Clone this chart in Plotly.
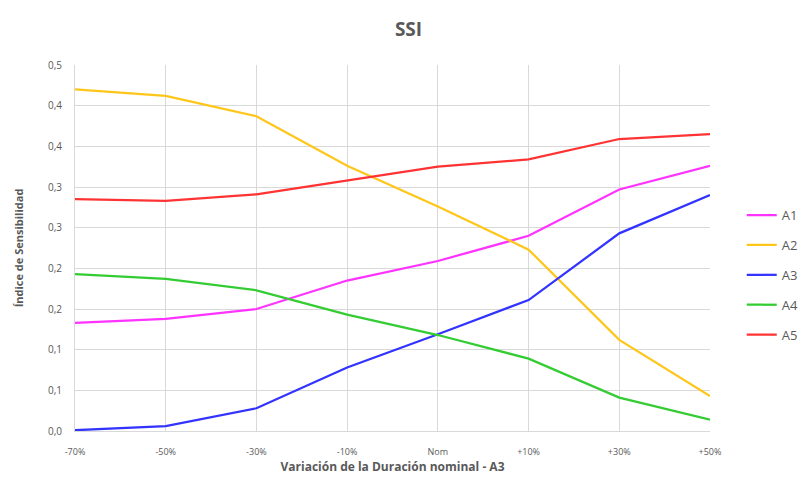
import plotly.graph_objects as go

# Sensitivity index (SSI) for each activity as the nominal duration of A3 varies
categories = ["-70%", "-50%", "-30%", "-10%", "Nom", "+10%", "+30%", "+50%"]

a1 = [0.133, 0.138, 0.150, 0.185, 0.209, 0.240, 0.297, 0.326]
a2 = [0.420, 0.412, 0.387, 0.326, 0.276, 0.223, 0.112, 0.043]
a3 = [0.001, 0.006, 0.028, 0.078, 0.119, 0.161, 0.243, 0.290]
a4 = [0.193, 0.187, 0.173, 0.143, 0.118, 0.089, 0.041, 0.014]
a5 = [0.285, 0.283, 0.291, 0.308, 0.325, 0.334, 0.359, 0.365]

series_names = ["A1", "A2", "A3", "A4", "A5"]
series_values = [a1, a2, a3, a4, a5]
series_colors = ["#FF33FF", "#FFC61A", "#3333FF", "#33CC33", "#FF3333"]

# y ticks every 0.05, shown with one decimal and a comma separator
y_tickvals = [0.00, 0.05, 0.10, 0.15, 0.20, 0.25, 0.30, 0.35, 0.40, 0.45]
y_ticktext = ["0,0", "0,1", "0,1", "0,2", "0,2", "0,3", "0,3", "0,4", "0,4", "0,5"]

grey_text = "#595959"
grid = "#D9D9D9"
font_family = "Open Sans, Liberation Sans, sans-serif"

fig = go.Figure()
for name, vals, col in zip(series_names, series_values, series_colors):
    fig.add_trace(go.Scatter(
        x=categories, y=vals, name=name, mode="lines",
        line=dict(color=col, width=2.25),
        legendgroup=name,
    ))

fig.update_layout(
    width=801, height=481,
    margin=dict(l=75, r=91, t=65, b=50, autoexpand=False),
    paper_bgcolor="white", plot_bgcolor="white",
    font=dict(family=font_family, color=grey_text),
    title=dict(text="<b>SSI</b>", x=0.51, xanchor="center", y=0.94, yanchor="middle",
               font=dict(size=19, color=grey_text)),
    showlegend=True,
    legend=dict(x=1.05, xanchor="left", y=0.426, yanchor="middle",
                traceorder="grouped", tracegroupgap=10,
                font=dict(size=13, color=grey_text),
                bgcolor="rgba(0,0,0,0)", borderwidth=0),
)

fig.update_xaxes(
    type="category", range=[0, 7], automargin=False,
    showgrid=True, gridcolor=grid, gridwidth=1,
    showline=True, linecolor=grid, linewidth=1,
    ticks="", tickfont=dict(size=9, color=grey_text),
    ticklabelstandoff=12,
    title=dict(text="<b>Variación de la Duración nominal - A3</b>",
               font=dict(size=12, color=grey_text), standoff=4),
    zeroline=False,
)
fig.update_yaxes(
    range=[0, 0.45], automargin=False,
    tickvals=y_tickvals, ticktext=y_ticktext,
    showgrid=True, gridcolor=grid, gridwidth=1,
    showline=True, linecolor=grid, linewidth=1,
    ticks="", tickfont=dict(size=10, color=grey_text),
    ticklabelstandoff=10,
    title=dict(text="<b>Índice de Sensibilidad</b>",
               font=dict(size=11, color=grey_text), standoff=22),
    zeroline=False,
)

fig.write_html("out.html")
